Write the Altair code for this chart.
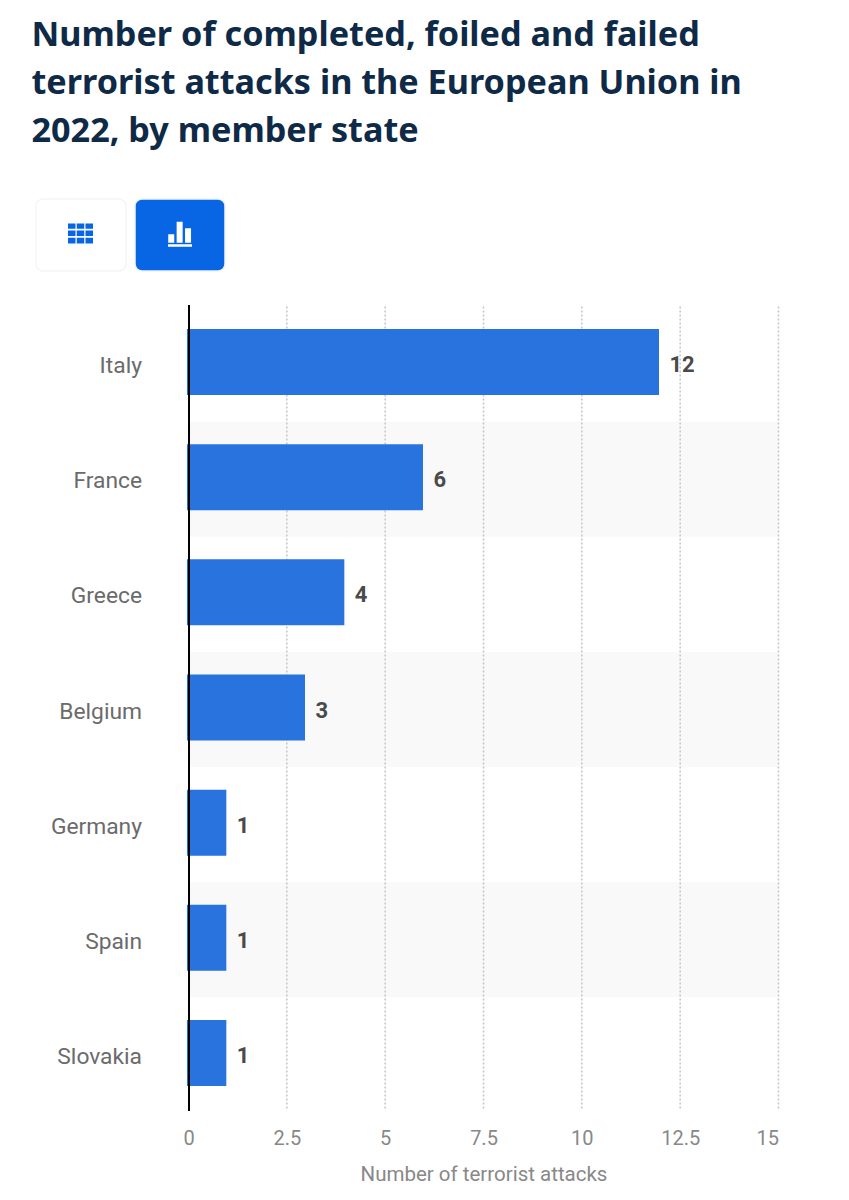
import altair as alt
import pandas as pd

states = ["Italy", "France", "Greece", "Belgium", "Germany", "Spain", "Slovakia"]
attacks = [12, 6, 4, 3, 1, 1, 1]
striped = ["France", "Belgium", "Spain"]
ticks = [0, 2.5, 5, 7.5, 10, 12.5, 15]
title_lines = [
    "Number of completed, foiled and failed",
    "terrorist attacks in the European Union in",
    "2022, by member state",
]

df = pd.DataFrame({"state": states, "attacks": attacks})
stripe_df = pd.DataFrame({"state": striped, "a": [0] * 3, "b": [15] * 3})
grid_df = pd.DataFrame({"t": ticks[1:]})
one = pd.DataFrame({"k": [0]})

x_scale = alt.Scale(domain=[0, 15], nice=False, zero=True)
y_scale = alt.Scale(domain=states, paddingInner=0, paddingOuter=0)

x_axis = alt.Axis(
    values=ticks,
    format=".1~f",
    grid=False,
    domain=False,
    ticks=False,
    labelFont="Roboto",
    labelFontSize=20,
    labelColor="#888888",
    labelPadding=18,
    labelFlush=False,
    labelOverlap=False,
    labelAlign={"condition": {"test": "datum.value == 15", "value": "right"}, "value": "center"},
    title="Number of terrorist attacks",
    titleFont="Roboto",
    titleFontSize=20.5,
    titleFontWeight="normal",
    titleColor="#888888",
    titlePadding=16,
)
y_axis = alt.Axis(
    title=None,
    grid=False,
    ticks=False,
    domain=True,
    domainColor="#000000",
    domainWidth=2,
    labelFont="Roboto",
    labelFontSize=22.8,
    labelColor="#6b6b6b",
    labelPadding=47,
    labelOffset=4,
    zindex=1,
)

stripes = (
    alt.Chart(stripe_df)
    .mark_rect(color="#f9f9f9", yOffset=2, y2Offset=2)
    .encode(
        y=alt.Y("state:N", scale=y_scale, axis=y_axis, sort=states),
        x=alt.X("a:Q", scale=x_scale, axis=x_axis),
        x2="b:Q",
    )
)

grid = (
    alt.Chart(grid_df)
    .mark_rule(color="#c4c4c4", strokeWidth=1.5, strokeDash=[2, 2])
    .encode(
        x=alt.X("t:Q", scale=x_scale, axis=x_axis),
        y=alt.value(2),
        y2=alt.value(804),
    )
)

bars = (
    alt.Chart(df)
    .mark_bar(color="#2873de", size=66, xOffset=-1.5, x2Offset=1.5)
    .encode(
        x=alt.X("attacks:Q", scale=x_scale, axis=x_axis),
        y=alt.Y("state:N", scale=y_scale, axis=y_axis, sort=states),
    )
)

labels = (
    alt.Chart(df)
    .mark_text(
        align="left",
        baseline="middle",
        dx=9,
        dy=3,
        font="Roboto",
        fontSize=22,
        fontWeight="bold",
        color="#4a4a4a",
    )
    .encode(
        x=alt.X("attacks:Q", scale=x_scale, axis=x_axis),
        y=alt.Y("state:N", scale=y_scale, axis=y_axis, sort=states),
        text="attacks:Q",
    )
)

def button(x0, x1, fill, stroke):
    return (
        alt.Chart(one)
        .mark_rect(fill=fill, stroke=stroke, strokeWidth=1.5, cornerRadius=7)
        .encode(
            x=alt.value(x0),
            x2=alt.value(x1),
            y=alt.value(-105.5),
            y2=alt.value(-33.5),
        )
    )

GRID_ICON = (
    "M-1,-.8H-.4V-.38H-1Z M-.3,-.8H.3V-.38H-.3Z M.4,-.8H1V-.38H.4Z "
    "M-1,-.25H-.4V.2H-1Z M-.3,-.25H.3V.2H-.3Z M.4,-.25H1V.2H.4Z "
    "M-1,.33H-.4V.8H-1Z M-.3,.33H.3V.8H-.3Z M.4,.33H1V.8H.4Z"
)
BAR_ICON = (
    "M-.98,-.02H-.48V.68H-.98Z M-.28,-1.07H.22V.68H-.28Z M.42,-.52H.92V.68H.42Z M-1,.82H1V1.02H-1Z"
)

def icon(path, cx, cy, size, color):
    return (
        alt.Chart(one)
        .mark_point(shape=path, filled=True, fill=color, stroke=None, size=size, opacity=1)
        .encode(x=alt.value(cx), y=alt.value(cy))
    )

chart = (
    alt.layer(
        stripes,
        grid,
        bars,
        labels,
        button(-152.5, -62.5, "#ffffff", "#f5f5f5"),
        button(-53.5, 36.5, "#0866e4", "#f0f4fb"),
        icon(GRID_ICON, -108, -71, 625, "#0866e4"),
        icon(BAR_ICON, -8.5, -70, 576, "#ffffff"),
    )
    .properties(
        width=590,
        height=806,
        autosize=alt.AutoSizeParams(type="none"),
        padding={"left": 180.5, "top": 296.5, "right": 62.5, "bottom": 75},
        background="#ffffff",
        title=alt.TitleParams(
            text=title_lines,
            anchor="start",
            frame="group",
            font="Noto Sans",
            fontSize=34.2,
            fontWeight="bold",
            color="#0f2a47",
            lineHeight=48,
            baseline="top",
            offset=0,
            dx=-157,
            dy=-49,
        ),
    )
    .configure_view(stroke=None)
)

chart.save("out.html", embed_options={"renderer": "svg", "actions": False})
